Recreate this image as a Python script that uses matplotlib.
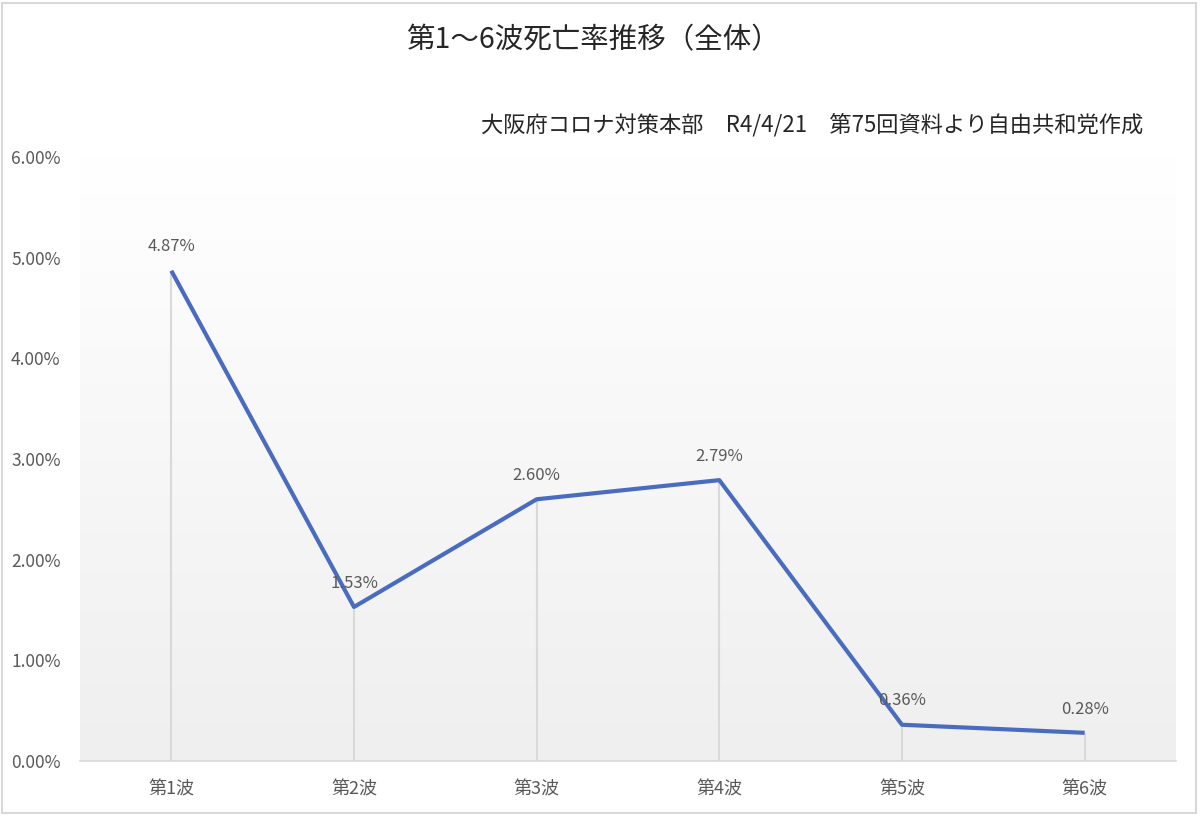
import matplotlib
matplotlib.use('Agg')
import matplotlib.pyplot as plt
from matplotlib.ticker import FuncFormatter
from matplotlib.patches import Rectangle
import numpy as np

plt.rcParams['font.family'] = ['Noto Sans CJK JP', 'DejaVu Sans']

#データ
waves = ['第1波', '第2波', '第3波', '第4波', '第5波', '第6波']
death_rate = [4.87, 1.53, 2.60, 2.79, 0.36, 0.28]
title = '第1〜6波死亡率推移（全体）'
subtitle = '大阪府コロナ対策本部　R4/4/21　第75回資料より自由共和党作成'

fig = plt.figure(figsize=(12, 8.18), dpi=100)
ax = fig.add_axes([80/1200, 57/818, 1096/1200, 604/818])

x = np.arange(len(waves))

#背景のグラデーション
grad = np.linspace(0, 1, 256).reshape(-1, 1)
cmap = matplotlib.colors.LinearSegmentedColormap.from_list('g', ['#efefef', '#ffffff'])
ax.imshow(grad, extent=[-0.5, 5.5, 0, 6], aspect='auto', cmap=cmap, origin='lower', zorder=0)

#降下線
ax.vlines(x, 0, death_rate, color='#d9d9d9', lw=1.5, zorder=1)
ax.plot(x, death_rate, color='#4a6cc0', lw=3, zorder=3, solid_capstyle='butt')

for xi, v in zip(x, death_rate):
    ax.annotate('%.2f%%' % v, (xi, v), xytext=(0, 11), textcoords='offset points',
                ha='center', va='bottom', fontsize=12, color='#595959', zorder=4)

ax.set_xlim(-0.5, 5.5)
ax.set_ylim(0, 6)
ax.set_xticks(x)
ax.set_xticklabels(waves)
ax.set_yticks(np.arange(0, 7, 1))
ax.yaxis.set_major_formatter(FuncFormatter(lambda v, p: '%.2f%%' % v))
ax.tick_params(axis='both', length=0, labelcolor='#595959')
ax.tick_params(axis='x', pad=14, labelsize=13)
ax.tick_params(axis='y', pad=14, labelsize=12.5)
for s in ['top', 'right', 'left']:
    ax.spines[s].set_visible(False)
ax.spines['bottom'].set_color('#d9d9d9')
ax.spines['bottom'].set_linewidth(1.2)

fig.text(593/1200, 1 - 40/818, title, ha='center', va='center', fontsize=20.5, color='#262626')
fig.text(1143/1200, 1 - 125/818, subtitle, ha='right', va='center', fontsize=16, color='#262626')

#外枠
fig.patches.append(Rectangle((0.002, 0.006), 0.995, 0.99, transform=fig.transFigure,
                             fill=False, edgecolor='#d9d9d9', lw=1.5))

fig.savefig('out.png', dpi=100)
